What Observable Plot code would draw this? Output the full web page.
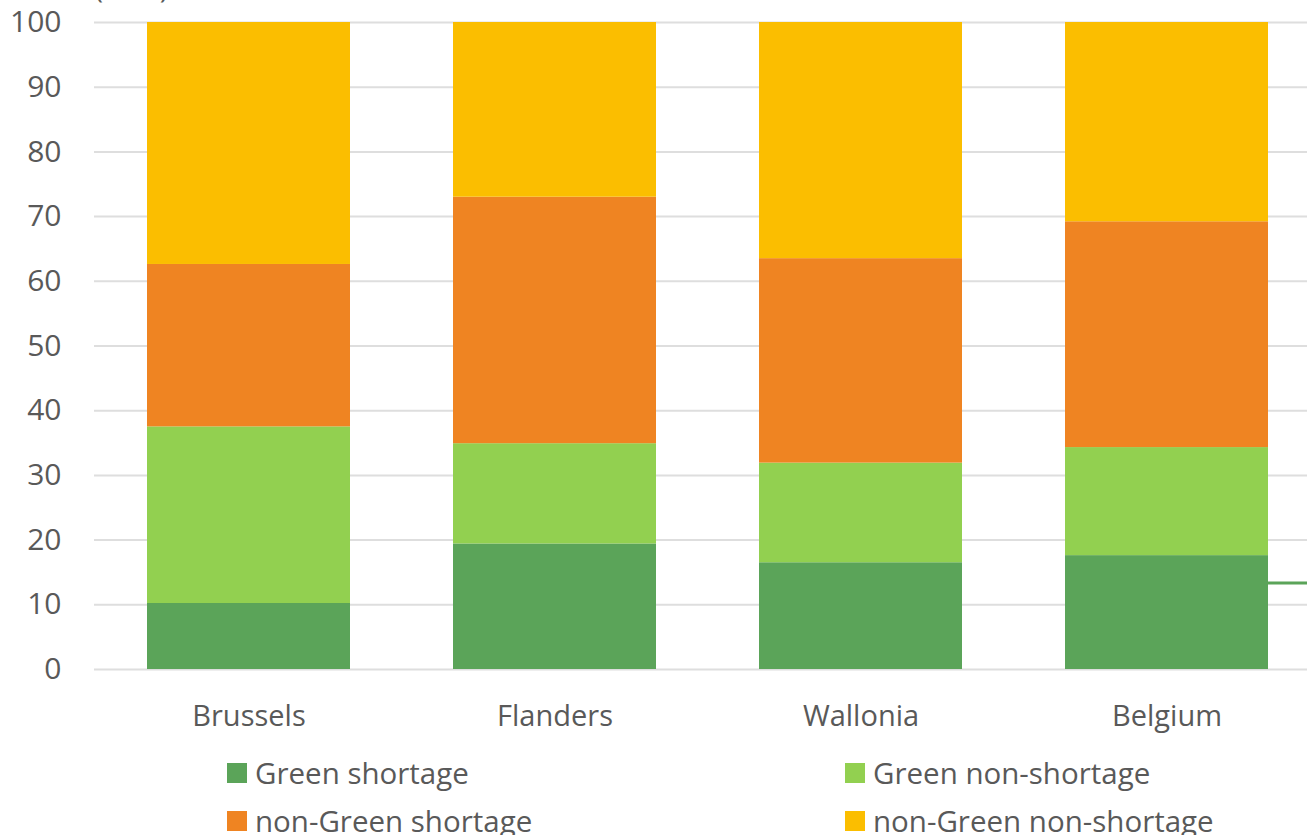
<!DOCTYPE html>
<html>
<head>
<meta charset="utf-8">
<script src="https://cdn.jsdelivr.net/npm/d3@7"></script>
<script src="https://cdn.jsdelivr.net/npm/@observablehq/plot@0.6"></script>
<style>
  html, body { margin: 0; padding: 0; background: #fff; overflow: hidden; }
  #chart { width: 1307px; }
  .legend {
    display: grid;
    grid-template-columns: 618px 420px;
    row-gap: 19px;
    padding-left: 227px;
    margin-top: 13px;
    font-family: "Open Sans", sans-serif;
    font-size: 29.5px;
    color: #595959;
  }
  .legend .item { display: flex; align-items: center; height: 29px; white-space: nowrap; }
  .legend .sw { width: 20px; height: 20px; margin-right: 8px; flex: none; }
</style>
</head>
<body>
<div id="chart"></div>
<script>
// Regions on the x axis
const regions = ["Brussels", "Flanders", "Wallonia", "Belgium"];

// Shares of employment (%) per group, one value per region
const greenShortage = [10.2, 19.4, 16.5, 17.6];
const greenNonShortage = [27.3, 15.5, 15.4, 16.7];
const nonGreenShortage = [25.1, 38.1, 31.6, 34.9];
const nonGreenNonShortage = [37.4, 27.0, 36.5, 30.8];

// Series names and colours, bottom to top
const seriesNames = ["Green shortage", "Green non-shortage", "non-Green shortage", "non-Green non-shortage"];
const seriesColors = ["#5ba459", "#92d050", "#ef8422", "#fbbe00"];

// Reference level drawn to the right of the last bar
const referenceLine = [13.3];

const yTicks = [0, 10, 20, 30, 40, 50, 60, 70, 80, 90, 100];
const unitLabel = "(in %)";

const seriesValues = [greenShortage, greenNonShortage, nonGreenShortage, nonGreenNonShortage];
const rows = [];
seriesNames.forEach((name, s) => {
  regions.forEach((region, r) => {
    rows.push({region, series: name, value: seriesValues[s][r]});
  });
});

const font = "'Open Sans', sans-serif";
const gridColor = "#dedede";

const plot = Plot.plot({
  width: 1307,
  height: 745,
  marginLeft: 94,
  marginRight: -14,
  marginTop: 22,
  marginBottom: 76,
  style: {fontFamily: font, fontSize: "29px", color: "#595959", background: "#fff"},
  x: {domain: regions, paddingInner: 0.335, paddingOuter: 0.1675, label: null},
  y: {domain: [0, 100], label: null},
  color: {domain: seriesNames, range: seriesColors},
  marks: [
    Plot.gridY(yTicks, {stroke: gridColor, strokeOpacity: 1, strokeWidth: 2}),
    Plot.axisY({ticks: yTicks, tickSize: 0, tickPadding: 33, fill: "#595959", fontSize: 30, label: null}),
    Plot.axisX({tickSize: 0, tickPadding: 36, fill: "#595959", fontSize: 29, label: null}),
    Plot.barY(rows, {x: "region", y: "value", fill: "series", order: seriesNames}),
    // reference level: from the right edge of the last bar to the frame edge
    Plot.ruleY(referenceLine, {
      stroke: "#5ba459",
      strokeWidth: 3,
      render(index, scales, values, dimensions) {
        const x0 = scales.x(regions[regions.length - 1]) + scales.x.bandwidth();
        const g = d3.create("svg:g");
        for (const i of index) {
          const yy = values.y[i];
          g.append("line")
            .attr("x1", x0).attr("x2", dimensions.width)
            .attr("y1", yy).attr("y2", yy)
            .attr("stroke", "#5ba459").attr("stroke-width", 3);
        }
        return g.node();
      }
    }),
    Plot.text([unitLabel], {frameAnchor: "top-left", textAnchor: "start", lineAnchor: "bottom", dy: -25, fill: "#595959", fontSize: 29})
  ]
});

document.getElementById("chart").appendChild(plot);

// Legend below the chart, two columns
const legend = document.createElement("div");
legend.className = "legend";
seriesNames.forEach((name, i) => {
  const item = document.createElement("div");
  item.className = "item";
  const sw = document.createElement("span");
  sw.className = "sw";
  sw.style.background = seriesColors[i];
  const label = document.createElement("span");
  label.textContent = name;
  item.append(sw, label);
  legend.appendChild(item);
});
document.body.appendChild(legend);
</script>
</body>
</html>
